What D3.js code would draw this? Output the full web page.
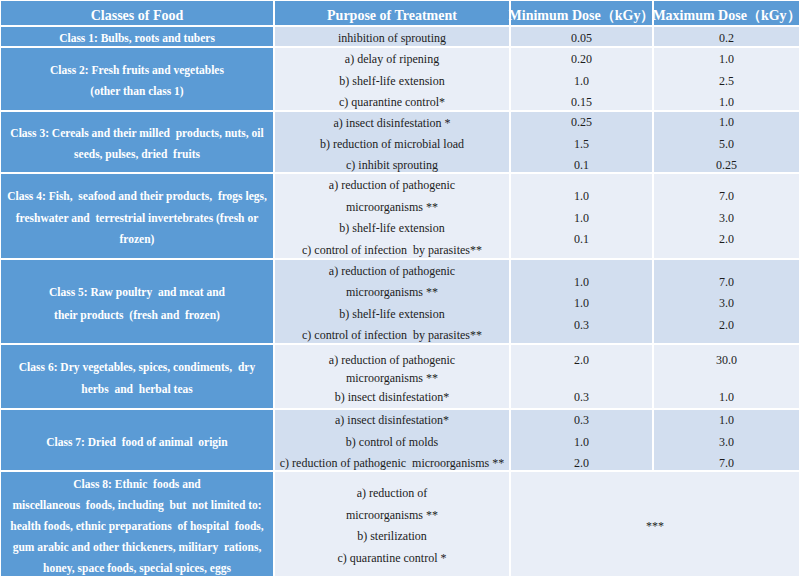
<!DOCTYPE html>
<html>
<head>
<meta charset="utf-8">
<script src="https://cdn.jsdelivr.net/npm/d3@7"></script>
<style>
  html, body { margin: 0; padding: 0; background: #ffffff; }
  svg { display: block; }
  svg text { font-family: "Liberation Serif", "Times New Roman", Tinos, "DejaVu Serif", serif; }
</style>
</head>
<body>
<svg id="chart" width="800" height="582"></svg>
<script>
// ---------- DATA ----------
const headers = ["Classes of Food", "Purpose of Treatment", "Minimum Dose\uFF08kGy\uFF09", "Maximum Dose\uFF08kGy\uFF09"];

const classLabels = [
  ["Class 1: Bulbs, roots and tubers"],
  ["Class 2: Fresh fruits and vegetables", "(other than class 1)"],
  ["Class 3: Cereals and their milled  products, nuts, oil", "seeds, pulses, dried  fruits"],
  ["Class 4: Fish,  seafood and their products,  frogs legs,", "freshwater and  terrestrial invertebrates (fresh or", "frozen)"],
  ["Class 5: Raw poultry  and meat and", "their products  (fresh and  frozen)"],
  ["Class 6: Dry vegetables, spices, condiments,  dry", "herbs  and  herbal teas"],
  ["Class 7: Dried  food of animal  origin"],
  ["Class 8: Ethnic  foods and", "miscellaneous  foods, including  but  not limited to:", "health foods, ethnic preparations  of hospital  foods,", "gum arabic and other thickeners, military  rations,", "honey, space foods, special spices, eggs"]
];

const purposes = [
  ["inhibition of sprouting"],
  ["a) delay of ripening", "b) shelf-life extension", "c) quarantine control*"],
  ["a) insect disinfestation *", "b) reduction of microbial load", "c) inhibit sprouting"],
  ["a) reduction of pathogenic", "microorganisms **", "b) shelf-life extension", "c) control of infection  by parasites**"],
  ["a) reduction of pathogenic", "microorganisms **", "b) shelf-life extension", "c) control of infection  by parasites**"],
  ["a) reduction of pathogenic", "microorganisms **", "b) insect disinfestation*"],
  ["a) insect disinfestation*", "b) control of molds", "c) reduction of pathogenic  microorganisms **"],
  ["a) reduction of", "microorganisms **", "b) sterilization", "c) quarantine control *"]
];

const minDose = [
  ["0.05"],
  ["0.20", "1.0", "0.15"],
  ["0.25", "1.5", "0.1"],
  ["1.0", "1.0", "0.1"],
  ["1.0", "1.0", "0.3"],
  ["2.0", "", "0.3"],
  ["0.3", "1.0", "2.0"],
  ["***"]
];

const maxDose = [
  ["0.2"],
  ["1.0", "2.5", "1.0"],
  ["1.0", "5.0", "0.25"],
  ["7.0", "3.0", "2.0"],
  ["7.0", "3.0", "2.0"],
  ["30.0", "", "1.0"],
  ["1.0", "3.0", "7.0"],
  []
];

// ---------- LAYOUT (styles / geometry) ----------
const W = 800, H = 582;
const colEdges = [0, 274, 510, 653, 800];
const rowEdges = [0, 26, 47, 111, 173, 259, 344, 409, 471, 577];
const mergedDoseRows = [7];         // class 8: min & max dose merged
const lineGap = [21.5, 21.5, 21, 21.5, 21.5, 18.5, 21.5, 21.5];
const labelGap = [21, 21, 21, 21.5, 23, 22, 21, 21];

const C = {
  blue: "#5b9bd5",
  band1: "#d2deef",
  band2: "#e9eef7",
  text: "#1c1c1c",
  white: "#ffffff"
};

const svg = d3.select("#chart");
svg.append("rect").attr("width", W).attr("height", H).attr("fill", "#fff");

const x = d3.scaleOrdinal().domain([0, 1, 2, 3]).range(colEdges.slice(0, 4));
const xEnd = d3.scaleOrdinal().domain([0, 1, 2, 3]).range(colEdges.slice(1));
const y = d3.scaleOrdinal().domain(d3.range(9)).range(rowEdges.slice(0, 9));
const yEnd = d3.scaleOrdinal().domain(d3.range(9)).range(rowEdges.slice(1));

const colCenter = c => (x(c) + xEnd(c)) / 2;
const rowCenter = r => (y(r) + yEnd(r)) / 2;

// ---------- HEADER ----------
const header = svg.append("g");
header.selectAll("rect").data(headers).join("rect")
  .attr("x", (d, i) => x(i) + 1)
  .attr("y", 1)
  .attr("width", (d, i) => xEnd(i) - x(i) - 2)
  .attr("height", yEnd(0) - 2)
  .attr("fill", C.blue);
header.selectAll("text").data(headers).join("text")
  .attr("x", (d, i) => colCenter(i))
  .attr("y", rowCenter(0) + 2)
  .attr("dy", "0.35em")
  .attr("text-anchor", "middle")
  .style("font-weight", "bold")
  .style("font-size", "14px")
  .attr("fill", C.white)
  .text(d => d);

// ---------- BODY ----------
const body = svg.append("g");
classLabels.forEach((lbl, k) => {
  const r = k + 1;
  const band = k % 2 === 0 ? C.band1 : C.band2;
  const merged = mergedDoseRows.includes(k);
  const cells = merged
    ? [{c0: 0, c1: 0, fill: C.blue}, {c0: 1, c1: 1, fill: band}, {c0: 2, c1: 3, fill: band}]
    : [{c0: 0, c1: 0, fill: C.blue}, {c0: 1, c1: 1, fill: band}, {c0: 2, c1: 2, fill: band}, {c0: 3, c1: 3, fill: band}];
  body.append("g").selectAll("rect").data(cells).join("rect")
    .attr("x", d => x(d.c0) + 1)
    .attr("y", y(r) + 1)
    .attr("width", d => xEnd(d.c1) - x(d.c0) - 2)
    .attr("height", yEnd(r) - y(r) - 2)
    .attr("fill", d => d.fill);

  const cy = rowCenter(r) + 1.5;
  const lines = (arr, gap) => arr.map((t, i) => ({t, yy: cy + (i - (arr.length - 1) / 2) * gap}));

  // class label
  body.append("g").selectAll("text").data(lines(lbl, labelGap[k])).join("text")
    .attr("x", colCenter(0))
    .attr("y", d => d.yy)
    .attr("dy", "0.35em")
    .attr("text-anchor", "middle")
    .style("font-weight", "bold")
    .style("font-size", "11.5px")
    .style("white-space", "pre")
    .attr("fill", C.white)
    .text(d => d.t);

  // purposes
  body.append("g").selectAll("text").data(lines(purposes[k], lineGap[k])).join("text")
    .attr("x", colCenter(1))
    .attr("y", d => d.yy)
    .attr("dy", "0.35em")
    .attr("text-anchor", "middle")
    .style("font-size", "12px")
    .style("white-space", "pre")
    .attr("fill", C.text)
    .text(d => d.t);

  // doses
  const gapD = k === 5 ? lineGap[k] : 21.5;
  const doseCols = merged ? [[minDose[k], (x(2) + xEnd(3)) / 2]]
                          : [[minDose[k], colCenter(2)], [maxDose[k], colCenter(3)]];
  doseCols.forEach(([arr, cx]) => {
    body.append("g").selectAll("text").data(lines(arr, gapD)).join("text")
      .attr("x", cx)
      .attr("y", d => d.yy)
      .attr("dy", "0.35em")
      .attr("text-anchor", "middle")
      .style("font-size", "12px")
      .attr("fill", C.text)
      .text(d => d.t);
  });
});
</script>
</body>
</html>
